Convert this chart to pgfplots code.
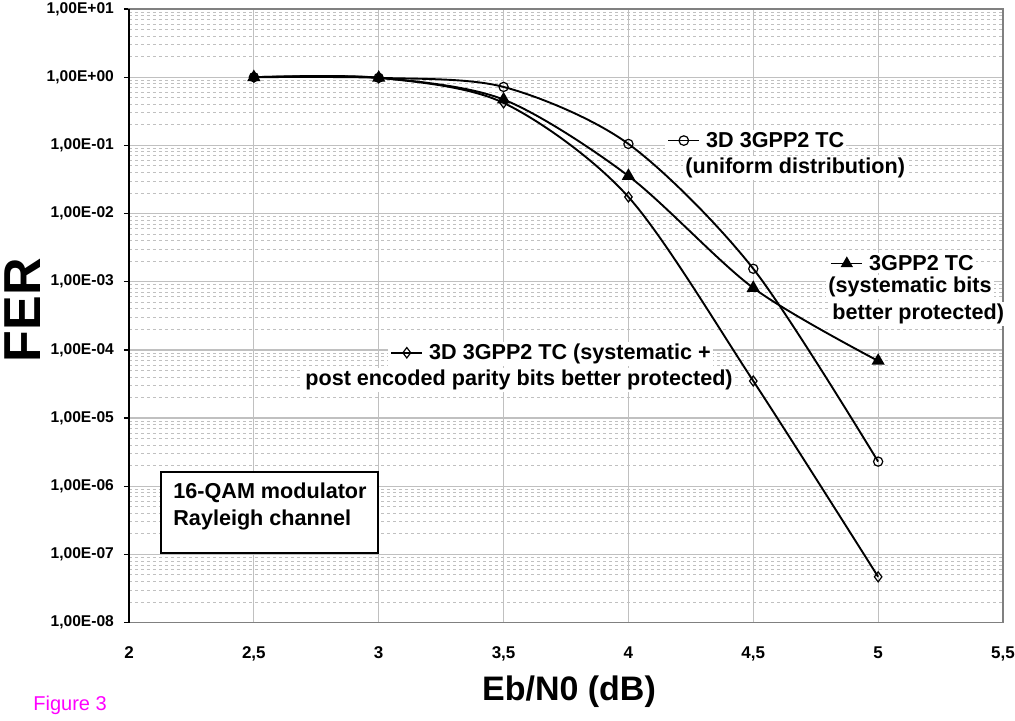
\documentclass[border=0pt]{standalone}
\usepackage{fontspec}
\setmainfont{Liberation Sans}
\usepackage{pgfplots}
\pgfplotsset{compat=1.18}
\definecolor{gridgray}{RGB}{192,192,192}
\definecolor{framegray}{RGB}{128,128,128}
\definecolor{figmag}{RGB}{255,0,255}
\newcommand{\samp}[3]{\tikz[baseline=-0.6ex]{\draw[line width=0.9pt] (0,0)--(15.5pt,0);\pgftransformshift{\pgfpoint{7.75pt}{0pt}}\pgfsetlinewidth{0.6pt}\pgfsetfillcolor{#2}\pgfsetplotmarksize{#3}\pgfuseplotmark{#1}}}
\begin{document}
\begin{tikzpicture}
\useasboundingbox (-64.5pt,-48.7pt) rectangle (443pt,311.3pt);
\begin{axis}[
  scale only axis, width=437pt, height=306.8pt,
  ymode=log, xmin=2, xmax=5.5, ymin=1e-8, ymax=10,
  xtick={2,2.5,3,3.5,4,4.5,5,5.5},
  xticklabels={2,{2,5},3,{3,5},4,{4,5},5,{5,5}},
  ytick={1e-8,1e-7,1e-6,1e-5,1e-4,1e-3,1e-2,1e-1,1,10},
  yticklabels={{1,00E-08},{1,00E-07},{1,00E-06},{1,00E-05},{1,00E-04},{1,00E-03},{1,00E-02},{1,00E-01},{1,00E+00},{1,00E+01}},
  minor ytick={2e-8,3e-8,4e-8,5e-8,6e-8,7e-8,8e-8,9e-8,
    2e-7,3e-7,4e-7,5e-7,6e-7,7e-7,8e-7,9e-7,
    2e-6,3e-6,4e-6,5e-6,6e-6,7e-6,8e-6,9e-6,
    2e-5,3e-5,4e-5,5e-5,6e-5,7e-5,8e-5,9e-5,
    2e-4,3e-4,4e-4,5e-4,6e-4,7e-4,8e-4,9e-4,
    2e-3,3e-3,4e-3,5e-3,6e-3,7e-3,8e-3,9e-3,
    2e-2,3e-2,4e-2,5e-2,6e-2,7e-2,8e-2,9e-2,
    0.2,0.3,0.4,0.5,0.6,0.7,0.8,0.9,
    2,3,4,5,6,7,8,9},
  xmajorgrids, ymajorgrids, yminorgrids,
  major grid style={gridgray, line width=0.6pt},
  minor grid style={gridgray, line width=0.5pt, dash pattern=on 1.6pt off 1.4pt},
  axis line style={framegray, line width=0.7pt},
  xtick style={draw=none},
  ytick style={black, line width=0.6pt},
  minor tick length=0pt,
  major tick length=2.5pt,
  tick align=outside,
  xtick pos=bottom, ytick pos=left,
  yticklabel style={font=\fontsize{7.8}{9}\selectfont\bfseries, xshift=-1.5pt},
  xticklabel style={font=\fontsize{8.5}{10}\selectfont\bfseries, yshift=-6pt},
  clip=false,
]
\addplot[black, line width=0.95pt, smooth, tension=0.5, mark=o, mark size=2.3pt, mark options={fill=white, line width=0.6pt}]
  coordinates {(2.5,1.0) (3,0.98) (3.5,0.72) (4,0.105) (4.5,1.55e-3) (5,2.3e-6)};
\addplot[black, line width=0.95pt, smooth, tension=0.5, mark=triangle*, mark size=2.9pt, mark options={fill=black}]
  coordinates {(2.5,1.0) (3,0.98) (3.5,0.47) (4,0.0356) (4.5,8.1e-4) (5,6.9e-5)};
\addplot[black, line width=0.95pt, smooth, tension=0.5, mark=diamond, mark size=2.5pt, mark options={fill=white, line width=0.6pt}]
  coordinates {(2.5,1.0) (3,0.98) (3.5,0.42) (4,0.0175) (4.5,3.5e-5) (5,4.7e-8)};
\draw[black, line width=0.9pt] (rel axis cs:0,0) -- (rel axis cs:0,1);
\end{axis}
\tikzset{lab/.style={anchor=west, fill=white, inner sep=1pt, font=\fontsize{10.8}{12}\selectfont\bfseries}}
\node[lab] at (268pt,241.3pt) {\samp{o}{white}{2.4pt}\hspace{3pt}3D 3GPP2 TC};
\node[lab] at (277pt,227.3pt) {(uniform distribution)};
\node[lab] at (349.5pt,179.8pt) {\samp{triangle*}{black}{3pt}\hspace{3pt}3GPP2 TC};
\node[lab] at (348.5pt,167.8pt) {(systematic bits};
\node[lab] at (350.5pt,154.3pt) {better protected)};
\node[lab] at (129.5pt,134.3pt) {\samp{diamond}{white}{2.6pt}\hspace{3pt}3D 3GPP2 TC (systematic +};
\node[lab] at (87pt,121.3pt) {post encoded parity bits better protected)};
\draw[black, line width=1.1pt, fill=white] (16pt,34.8pt) rectangle (124.5pt,75.3pt);
\node[lab, fill=none] at (21pt,64.8pt) {16-QAM modulator};
\node[lab, fill=none] at (21pt,51.3pt) {Rayleigh channel};
\node[anchor=west, inner sep=0pt, text=figmag, font=\fontsize{10}{12}\selectfont] at (-48pt,-41.2pt) {Figure 3};
\node[font=\fontsize{17}{20}\selectfont\bfseries] at (220pt,-34.7pt) {Eb/N0 (dB)};
\node[rotate=90, font=\fontsize{26}{30}\selectfont\bfseries] at (-53pt,156.3pt) {FER};
\end{tikzpicture}
\end{document}
